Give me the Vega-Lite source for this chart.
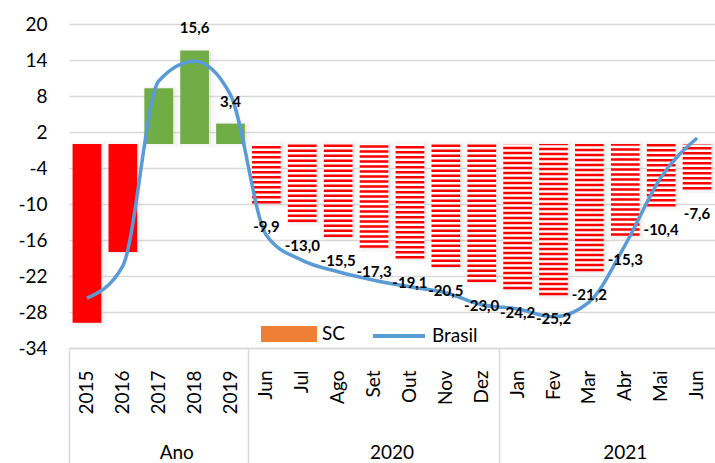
{
  "$schema": "https://vega.github.io/schema/vega-lite/v6.json",
  "width": 646,
  "height": 324,
  "autosize": {"type": "none"},
  "padding": {"left": 69, "top": 24, "right": 0, "bottom": 115},
  "background": "white",
  "title": {"text": "Base: 12 meses anteriores)", "fontSize": 18, "font": "Lato", "fontWeight": "normal", "color": "black", "offset": 16, "dx": -29, "anchor": "middle"},
  "config": {"view": {"stroke": null}, "font": "Lato", "axis": {"labelOverlap": false}, "axisY": {"labelOverlap": false}},
  "data": {"values": [
    {"cat": "2015", "grupo": "Ano", "SC": -29.8, "Brasil": -25.7},
    {"cat": "2016", "grupo": "Ano", "SC": -18.0, "Brasil": -20.3},
    {"cat": "2017", "grupo": "Ano", "SC": 9.3, "Brasil": 10.5},
    {"cat": "2018", "grupo": "Ano", "SC": 15.6, "Brasil": 13.8},
    {"cat": "2019", "grupo": "Ano", "SC": 3.4, "Brasil": 8.2},
    {"cat": "Jun 2020", "grupo": "2020", "SC": -9.9, "Brasil": -15.2},
    {"cat": "Jul 2020", "grupo": "2020", "SC": -13.0, "Brasil": -19.4},
    {"cat": "Ago 2020", "grupo": "2020", "SC": -15.5, "Brasil": -21.3},
    {"cat": "Set 2020", "grupo": "2020", "SC": -17.3, "Brasil": -22.7},
    {"cat": "Out 2020", "grupo": "2020", "SC": -19.1, "Brasil": -23.8},
    {"cat": "Nov 2020", "grupo": "2020", "SC": -20.5, "Brasil": -24.8},
    {"cat": "Dez 2020", "grupo": "2020", "SC": -23.0, "Brasil": -26.8},
    {"cat": "Jan 2021", "grupo": "2021", "SC": -24.2, "Brasil": -27.5},
    {"cat": "Fev 2021", "grupo": "2021", "SC": -25.2, "Brasil": -28.8},
    {"cat": "Mar 2021", "grupo": "2021", "SC": -21.2, "Brasil": -26.3},
    {"cat": "Abr 2021", "grupo": "2021", "SC": -15.3, "Brasil": -16.8},
    {"cat": "Mai 2021", "grupo": "2021", "SC": -10.4, "Brasil": -5.5},
    {"cat": "Jun 2021", "grupo": "2021", "SC": -7.6, "Brasil": 1.0}
  ]},
  "transform": [
    {"calculate": "(datum.SC < 0 ? '-' : '') + replace(format(abs(datum.SC), '.1f'), '.', ',')", "as": "rotulo"}
  ],
  "layer": [
    {
      "mark": {"type": "bar", "width": {"band": 0.8}, "color": "#bfbfbf", "opacity": 0.35, "stroke": "#bfbfbf", "strokeWidth": 6, "strokeOpacity": 0.35, "xOffset": 2, "yOffset": 1},
      "encoding": {
        "x": {"field": "cat", "type": "nominal",
          "scale": {"domain": ["2015","2016","2017","2018","2019","Jun 2020","Jul 2020","Ago 2020","Set 2020","Out 2020","Nov 2020","Dez 2020","Jan 2021","Fev 2021","Mar 2021","Abr 2021","Mai 2021","Jun 2021"], "paddingInner": 0, "paddingOuter": 0},
          "axis": {"orient": "bottom", "title": null, "labelAngle": -90, "labelFontSize": 19, "labelColor": "black", "labelPadding": 22, "ticks": false, "domain": true, "domainColor": "#d9d9d9", "domainWidth": 1.5, "grid": false, "labelOverlap": false, "labelExpr": "split(datum.label, ' ')[0]"}},
        "y": {"field": "SC", "type": "quantitative", "scale": {"domain": [-34, 20], "nice": false, "zero": false},
          "axis": {"title": null, "values": [20, 14, 8, 2, -4, -10, -16, -22, -28, -34], "tickCount": 20, "labelExpr": "(datum.value < 0 ? '-' : '') + abs(datum.value)", "labelFontSize": 19, "labelColor": "black", "ticks": false, "domain": false, "grid": true, "gridColor": "#d9d9d9", "gridWidth": 1.5, "labelPadding": 22, "labelOverlap": false}},
        "y2": {"datum": 0}
      }
    },
    {
      "transform": [{"filter": "datum.grupo === 'Ano'"}],
      "mark": {"type": "bar", "width": {"band": 0.8}},
      "encoding": {
        "x": {"field": "cat", "type": "nominal", "axis": null},
        "y": {"field": "SC", "type": "quantitative"},
        "y2": {"datum": 0},
        "color": {"condition": {"test": "datum.SC > 0", "value": "#70AD47"}, "value": "#FF0000"}
      }
    },
    {
      "transform": [{"filter": "datum.grupo !== 'Ano'"}],
      "mark": {"type": "bar", "width": {"band": 0.8}, "color": "white"},
      "encoding": {
        "x": {"field": "cat", "type": "nominal", "axis": null},
        "y": {"field": "SC", "type": "quantitative"},
        "y2": {"datum": 0}
      }
    },
    {
      "transform": [{"filter": "datum.grupo !== 'Ano'"}],
      "mark": {"type": "rule", "color": "#FF0000", "strokeWidth": 28.7, "strokeDash": [2.5, 2.5], "strokeCap": "butt"},
      "encoding": {
        "x": {"field": "cat", "type": "nominal", "axis": null},
        "y": {"field": "SC", "type": "quantitative"},
        "y2": {"datum": 0}
      }
    },
    {
      "mark": {"type": "line", "interpolate": "monotone", "strokeWidth": 3.5},
      "encoding": {
        "x": {"field": "cat", "type": "nominal",
          "axis": {"orient": "bottom", "title": null, "bandPosition": 0, "labelAngle": 0, "labelFontSize": 19, "labelColor": "black", "domain": false, "grid": false, "ticks": true, "tickSize": 115, "tickColor": "#d9d9d9", "tickWidth": 1.5,
            "tickOpacity": {"condition": {"test": "indexof(['2015','Jun 2020','Jan 2021'], datum.value) >= 0", "value": 1}, "value": 0},
            "labelExpr": "datum.value === '2017' ? 'Ano' : datum.value === 'Set 2020' ? '2020' : datum.value === 'Abr 2021' ? '2021' : ''",
            "labelOffset": {"condition": {"test": "datum.value === 'Abr 2021'", "value": 0}, "value": 18},
            "labelPadding": -20, "labelOverlap": false}},
        "y": {"field": "Brasil", "type": "quantitative"},
        "color": {"datum": "Brasil", "scale": {"domain": ["SC", "Brasil"], "range": ["#EE7F35", "#5B9BD5"]},
          "legend": {"title": null, "orient": "none", "legendX": 192, "legendY": 282, "direction": "horizontal", "labelFontSize": 19, "labelColor": "black", "symbolSize": 2704, "columnPadding": 20, "labelOffset": 5, "symbolStrokeWidth": 4,
            "encode": {"symbols": {"update": {
              "shape": {"signal": "datum.value === 'SC' ? 'M-1,-0.23H1V0.23H-1Z' : 'M-1,0H1'"},
              "fill": {"signal": "datum.value === 'SC' ? '#EE7F35' : 'transparent'"},
              "stroke": {"signal": "datum.value === 'SC' ? 'transparent' : '#5B9BD5'"},
              "strokeWidth": {"value": 4}
            }}}}}
      }
    },
    {
      "transform": [{"filter": "datum.cat === '2018' || datum.cat === '2019'"}],
      "mark": {"type": "text", "fontSize": 15, "fontWeight": "bold", "color": "black", "dy": -22},
      "encoding": {
        "x": {"field": "cat", "type": "nominal", "axis": null},
        "y": {"field": "SC", "type": "quantitative"},
        "text": {"field": "rotulo"}
      }
    },
    {
      "transform": [{"filter": "datum.grupo !== 'Ano'"}],
      "mark": {"type": "text", "fontSize": 15, "fontWeight": "bold", "color": "black", "dy": 24},
      "encoding": {
        "x": {"field": "cat", "type": "nominal", "axis": null},
        "y": {"field": "SC", "type": "quantitative"},
        "text": {"field": "rotulo"}
      }
    }
  ],
  "resolve": {"axis": {"x": "independent"}}
}
